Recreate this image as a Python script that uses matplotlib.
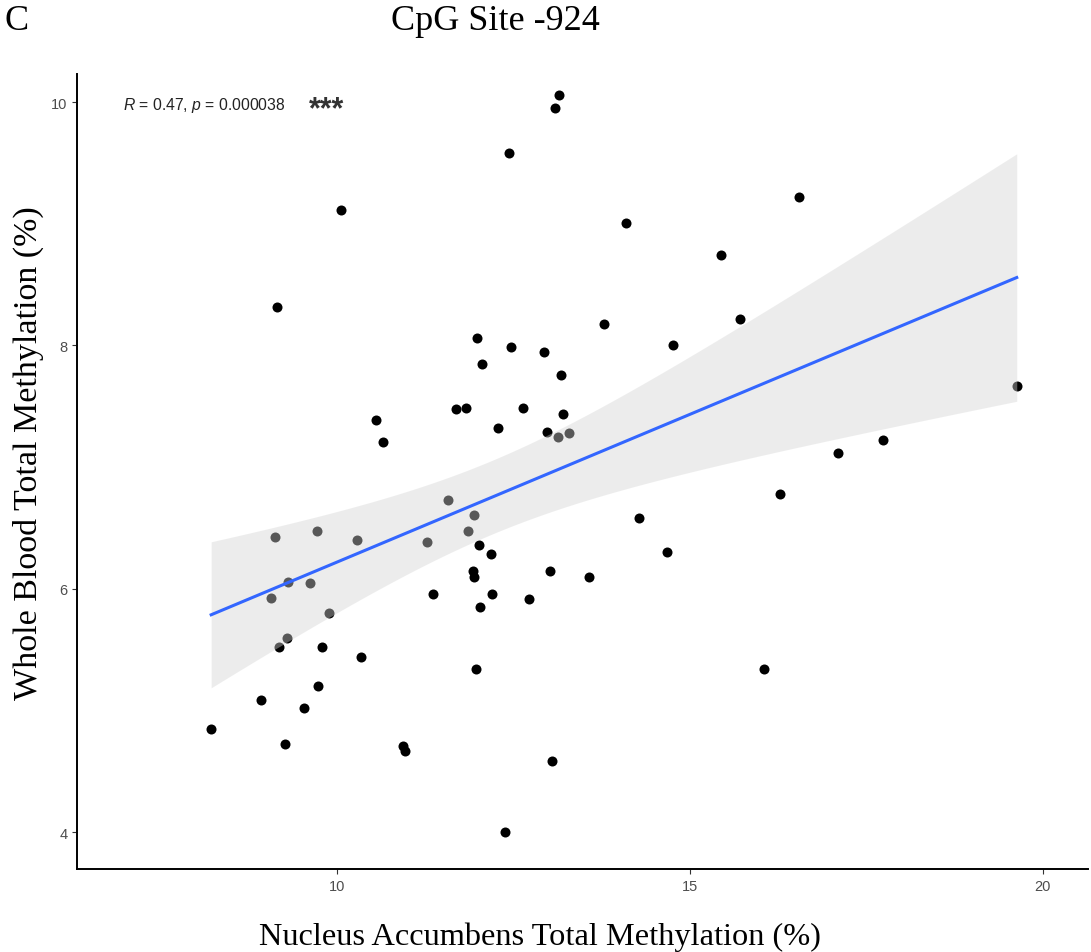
import numpy as np
import matplotlib
matplotlib.use("Agg")
import matplotlib.pyplot as plt

# Nucleus accumbens (x) vs whole blood (y) total methylation, CpG site -924
nac = [13.14, 13.09, 12.44, 10.06, 14.09, 16.54, 15.44, 9.15, 13.78, 15.71,
       14.76, 11.98, 12.46, 12.93, 12.05, 13.17, 19.63, 11.69, 11.83, 12.63,
       13.20, 10.55, 10.65, 12.28, 12.97, 13.13, 13.29, 17.73, 17.10, 16.27,
       11.57, 11.94, 11.86, 11.27, 14.28, 12.01, 12.18, 14.67, 11.93, 11.94,
       13.02, 13.57, 11.36, 12.20, 12.72, 12.03, 9.12, 9.72, 10.28, 9.31,
       9.62, 9.07, 9.89, 9.29, 9.18, 9.79, 10.34, 9.73, 8.92, 9.53,
       8.22, 9.26, 10.93, 10.96, 11.97, 16.05, 13.05, 12.38]
blood = [10.06, 9.95, 9.58, 9.11, 9.01, 9.22, 8.74, 8.32, 8.18, 8.22,
         8.00, 8.06, 7.99, 7.95, 7.85, 7.76, 7.67, 7.48, 7.49, 7.49,
         7.44, 7.39, 7.21, 7.32, 7.29, 7.25, 7.28, 7.22, 7.12, 6.78,
         6.73, 6.61, 6.48, 6.39, 6.58, 6.36, 6.29, 6.30, 6.15, 6.10,
         6.15, 6.10, 5.96, 5.96, 5.92, 5.85, 6.43, 6.48, 6.40, 6.06,
         6.05, 5.93, 5.80, 5.60, 5.52, 5.52, 5.44, 5.20, 5.09, 5.02,
         4.85, 4.73, 4.71, 4.67, 5.34, 5.34, 4.59, 4.00]

x_ticks = [10, 15, 20]
y_ticks = [4, 6, 8, 10]
stat_label = r"$\it{R}$ = 0.47, $\it{p}$ = 0.000038"

sans = ["Liberation Sans", "DejaVu Sans"]
serif = ["Liberation Serif", "DejaVu Serif"]
plt.rcParams["font.family"] = sans
plt.rcParams["mathtext.fontset"] = "custom"
plt.rcParams["mathtext.rm"] = "Liberation Sans"
plt.rcParams["mathtext.it"] = "Liberation Sans:italic"

x = np.array(nac)
y = np.array(blood)

# linear fit with 95% confidence band (like geom_smooth(method="lm"))
n = len(x)
slope, intercept = np.polyfit(x, y, 1)
resid = y - (slope * x + intercept)
s = np.sqrt(np.sum(resid ** 2) / (n - 2))
sxx = np.sum((x - x.mean()) ** 2)
xs = np.linspace(x.min(), x.max(), 200)
fit = slope * xs + intercept
se = s * np.sqrt(1.0 / n + (xs - x.mean()) ** 2 / sxx)
t_crit = 1.997  # df = 66

fig = plt.figure(figsize=(10.91, 9.53), dpi=100)
ax = fig.add_axes([0.0706, 0.0871, 0.9267, 0.8342])

ax.scatter(x, y, s=52, color="black", linewidths=0, zorder=2)
ax.fill_between(xs, fit - t_crit * se, fit + t_crit * se,
                color="#d4d4d4", alpha=0.42, linewidth=0, zorder=3)
ax.plot(xs, fit, color="#3366FF", linewidth=2.2, zorder=4)

ax.text(6.97, 9.94, stat_label, fontsize=11.3, color="#222222",
        ha="left", va="baseline")
ax.text(9.60, 9.873, "***", fontsize=22, fontweight="bold",
        color="#333333", ha="left", va="baseline")

ax.set_xlim(6.32, 20.64)
ax.set_ylim(3.70, 10.23)
ax.set_xticks(x_ticks)
ax.set_yticks(y_ticks)
ax.tick_params(labelsize=10.5, labelcolor="#4d4d4d", color="#333333",
               length=3.5, width=0.8)

for side in ["top", "right"]:
    ax.spines[side].set_visible(False)
for side in ["left", "bottom"]:
    ax.spines[side].set_linewidth(1.4)
    ax.spines[side].set_color("black")

fig.text(0.4945, 0.0168, "Nucleus Accumbens Total Methylation (%)",
         family=serif, fontsize=23.3, ha="center", va="center")
fig.text(0.026, 0.525, "Whole Blood Total Methylation (%)",
         family=serif, fontsize=24.5, ha="center", va="center", rotation=90)
fig.text(0.454, 0.977, "CpG Site -924", family=serif, fontsize=26,
         ha="center", va="center")
fig.text(0.004, 0.977, "C", family=serif, fontsize=26,
         ha="left", va="center")

plt.savefig("out.png", dpi=100)
